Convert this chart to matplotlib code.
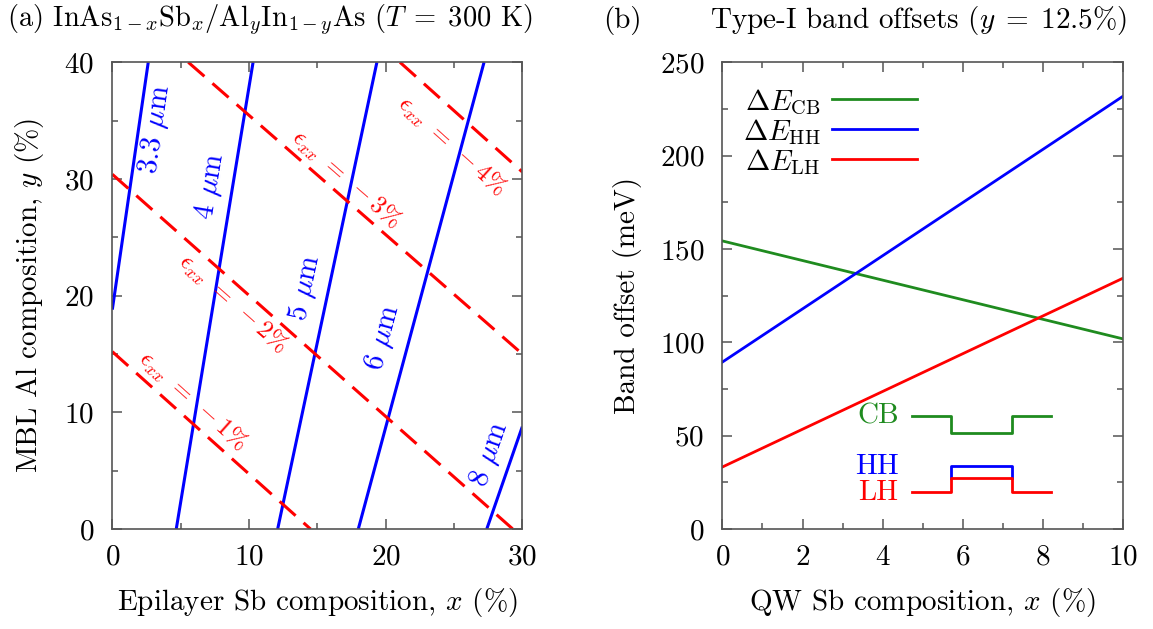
import numpy as np
import matplotlib
matplotlib.use("Agg")
import matplotlib.pyplot as plt
from matplotlib.ticker import MultipleLocator

plt.rcParams['font.family'] = 'serif'
plt.rcParams['font.serif'] = ['cmr10', 'DejaVu Serif']
plt.rcParams['mathtext.fontset'] = 'cm'
plt.rcParams['axes.formatter.use_mathtext'] = True
plt.rcParams['axes.unicode_minus'] = True

# --- panel (a): wavelength and strain contours (endpoints in x %, y %) ---
wl_labels = [r'3.3 $\mu$m', r'4 $\mu$m', r'5 $\mu$m', r'6 $\mu$m', r'8 $\mu$m']
wl_x = [[0.0, 2.63], [4.68, 10.3], [12.1, 19.36], [18.0, 27.2], [27.4, 30.0]]
wl_y = [[18.8, 40.0], [0.0, 40.0], [0.0, 40.0], [0.0, 40.0], [0.0, 8.77]]
wl_lab_xy = [(3.2, 34.3), (7.22, 29.4), (14.1, 20.7), (19.8, 16.4), (27.6, 6.4)]

strain_labels = [r'$\epsilon_{xx}\ =\ -1\%$', r'$\epsilon_{xx}\ =\ -2\%$',
                 r'$\epsilon_{xx}\ =\ -3\%$', r'$\epsilon_{xx}\ =\ -4\%$']
strain_x = [[0.0, 14.5], [0.0, 29.3], [5.56, 30.0], [21.05, 30.0]]
strain_y = [[15.2, 0.0], [30.4, 0.0], [40.0, 15.0], [40.0, 30.6]]
strain_lab_xy = [(5.9, 11.0), (8.8, 19.3), (17.1, 30.0), (24.8, 32.8)]

# --- panel (b): band offsets vs QW Sb composition ---
qw_x = [0.0, 10.0]
dE_cb = [154.3, 101.8]
dE_hh = [89.4, 231.9]
dE_lh = [33.2, 134.4]

# schematic band profile
well_x = [4.72, 5.70, 5.70, 7.22, 7.22, 8.20]
cb_prof = [60.5, 60.5, 51.3, 51.3, 60.5, 60.5]
hh_x = [5.70, 5.70, 7.22, 7.22]
hh_prof = [27.3, 33.7, 33.7, 27.3]
lh_prof = [20.0, 20.0, 27.3, 27.3, 20.0, 20.0]

green = '#1f8b1f'
fs = 21
spine_col = '#555555'

fig = plt.figure(figsize=(11.53, 6.29), dpi=100)
ax1 = fig.add_axes([0.0974, 0.159, 0.3556, 0.742])
ax2 = fig.add_axes([0.6265, 0.159, 0.3477, 0.742])


def style(ax):
    for s in ax.spines.values():
        s.set_color(spine_col)
        s.set_linewidth(1.2)
    ax.tick_params(which='both', direction='in', top=True, right=True,
                   color=spine_col, labelsize=fs)
    ax.tick_params(axis='x', pad=11)
    ax.tick_params(axis='y', pad=13)
    ax.tick_params(which='major', length=7, width=1.1)
    ax.tick_params(which='minor', length=4, width=1.1)


ax1.set_xlim(0, 30)
ax1.set_ylim(0, 40)
ax1.xaxis.set_major_locator(MultipleLocator(10))
ax1.xaxis.set_minor_locator(MultipleLocator(5))
ax1.yaxis.set_major_locator(MultipleLocator(10))
ax1.yaxis.set_minor_locator(MultipleLocator(5))
style(ax1)


def angle(ax, xs, ys):
    p = ax.transData.transform(np.column_stack([xs, ys]))
    d = p[1] - p[0]
    return np.degrees(np.arctan2(d[1], d[0]))


for xs, ys, lab, (lx, ly) in zip(wl_x, wl_y, wl_labels, wl_lab_xy):
    ax1.plot(xs, ys, color='#0000ff', lw=2.2, solid_capstyle='butt')
    ax1.text(lx, ly, lab, color='#0000ff', fontsize=fs, rotation=angle(ax1, xs, ys),
             ha='center', va='center', rotation_mode='anchor')

for xs, ys, lab, (lx, ly) in zip(strain_x, strain_y, strain_labels, strain_lab_xy):
    ax1.plot(xs, ys, color='#ff0000', lw=2.2, dashes=(7, 3.5))
    ax1.text(lx, ly, lab, color='#ff0000', fontsize=18, rotation=angle(ax1, xs, ys),
             ha='center', va='center', rotation_mode='anchor')

ax1.set_xlabel(r'Epilayer Sb composition, $x$ (%)', fontsize=fs, labelpad=11)
ax1.set_ylabel(r'MBL Al composition, $y$ (%)', fontsize=fs, labelpad=13)

ax2.set_xlim(0, 10)
ax2.set_ylim(0, 250)
ax2.xaxis.set_major_locator(MultipleLocator(2))
ax2.xaxis.set_minor_locator(MultipleLocator(1))
ax2.yaxis.set_major_locator(MultipleLocator(50))
ax2.yaxis.set_minor_locator(MultipleLocator(25))
style(ax2)

l_cb, = ax2.plot(qw_x, dE_cb, color=green, lw=2, label=r'$\Delta E_{\rm CB}$')
l_hh, = ax2.plot(qw_x, dE_hh, color='#0000ff', lw=2, label=r'$\Delta E_{\rm HH}$')
l_lh, = ax2.plot(qw_x, dE_lh, color='#ff0000', lw=2, label=r'$\Delta E_{\rm LH}$')
ax2.legend(handles=[l_cb, l_hh, l_lh], loc='upper left', bbox_to_anchor=(0.0, 0.99),
           frameon=False, markerfirst=False, fontsize=fs, handlelength=2.9,
           labelspacing=0.0, handletextpad=0.4, borderaxespad=0.3)

ax2.plot(well_x, cb_prof, color=green, lw=2)
ax2.plot(hh_x, hh_prof, color='#0000ff', lw=2)
ax2.plot(well_x, lh_prof, color='#ff0000', lw=2)
ax2.text(4.4, 60.5, 'CB', color=green, fontsize=fs, ha='right', va='center')
ax2.text(4.4, 33.2, 'HH', color='#0000ff', fontsize=fs, ha='right', va='center')
ax2.text(4.4, 19.5, 'LH', color='#ff0000', fontsize=fs, ha='right', va='center')

ax2.set_xlabel(r'QW Sb composition, $x$ (%)', fontsize=fs, labelpad=11)
ax2.set_ylabel('Band offset (meV)', fontsize=fs, labelpad=13)

fig.text(0.006, 0.968, r'(a) InAs$_{1-x}$Sb$_x$/Al$_y$In$_{1-y}$As ($T\;=\;300$ K)',
         fontsize=20.5, ha='left', va='center')
fig.text(0.523, 0.968, '(b)', fontsize=fs, ha='left', va='center')
fig.text(0.977, 0.968, r'Type-I band offsets ($y\;=\;12.5$%)', fontsize=fs,
         ha='right', va='center')

fig.savefig('out.png', dpi=100)
